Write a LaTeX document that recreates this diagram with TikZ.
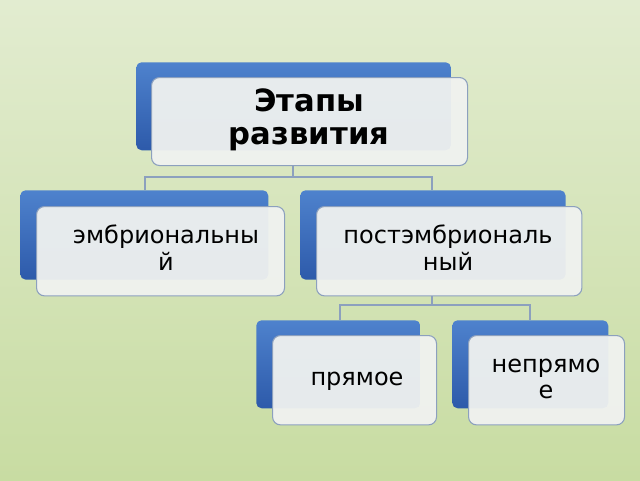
\documentclass[tikz,border=0pt]{standalone}
\usepackage{fontspec}
\setmainfont{DejaVu Sans}
\definecolor{bgA}{RGB}{226,236,208}
\definecolor{bgB}{RGB}{200,220,162}
\definecolor{blA}{RGB}{78,130,205}
\definecolor{blB}{RGB}{45,90,170}
\definecolor{frF}{RGB}{240,242,240}
\definecolor{frD}{RGB}{140,160,190}
\begin{document}
\begin{tikzpicture}[x=0.75pt,y=-0.75pt,
  back/.style={draw=none,rounded corners=4pt,top color=blA,bottom color=blB,anchor=north west,inner sep=0pt},
  front/.style={draw=frD,line width=0.8pt,rounded corners=6pt,fill=frF,fill opacity=0.95,anchor=north west,inner sep=0pt},
  lbl/.style={align=center,font=\fontsize{18}{20}\selectfont,text=black},
  conn/.style={draw=frD,line width=0.8pt}]
\shade[top color=bgA, bottom color=bgB] (0,0) rectangle (640,480);
\useasboundingbox (0,0) rectangle (640,480);
% blue back cards
\node[back,minimum width=236pt,minimum height=66pt] (b0) at (136,62) {};
\node[back,minimum width=186pt,minimum height=67pt] (b1) at (20,190) {};
\node[back,minimum width=199pt,minimum height=67pt] (b2) at (300,190) {};
\node[back,minimum width=123pt,minimum height=66pt] (b3) at (256,320) {};
\node[back,minimum width=117pt,minimum height=66pt] (b4) at (452,320) {};
% front cards
\node[front,minimum width=237pt,minimum height=66pt] (t) at (151,77) {};
\node[front,minimum width=186pt,minimum height=67pt] (l) at (36,206) {};
\node[front,minimum width=199pt,minimum height=67pt] (r) at (316,206) {};
\node[front,minimum width=123pt,minimum height=67pt] (p) at (272,335) {};
\node[front,minimum width=117pt,minimum height=67pt] (n) at (468,335) {};
% labels
\node[lbl,font=\bfseries\fontsize{23}{25}\selectfont] (tt) at (309,120) {Этапы\\развития};
\node[lbl] (lt) at (166,248) {эмбриональны\\й};
\node[lbl] (rt) at (448,248) {постэмбриональ\\ный};
\node[lbl] (pt) at (357,381) {прямое};
\node[lbl] (nt) at (546,379) {непрямо\\е};
% connectors
\coordinate (j1) at (293,177);
\coordinate (j2) at (432,305);
\draw[conn] (t.south -| j1) -- (j1) -| (b1.north -| 145,0);
\draw[conn] (j1) -| (b2.north -| 432,0);
\draw[conn] (r.south -| j2) -- (j2) -| (b3.north -| 340,0);
\draw[conn] (j2) -| (b4.north -| 530,0);
\end{tikzpicture}
\end{document}
